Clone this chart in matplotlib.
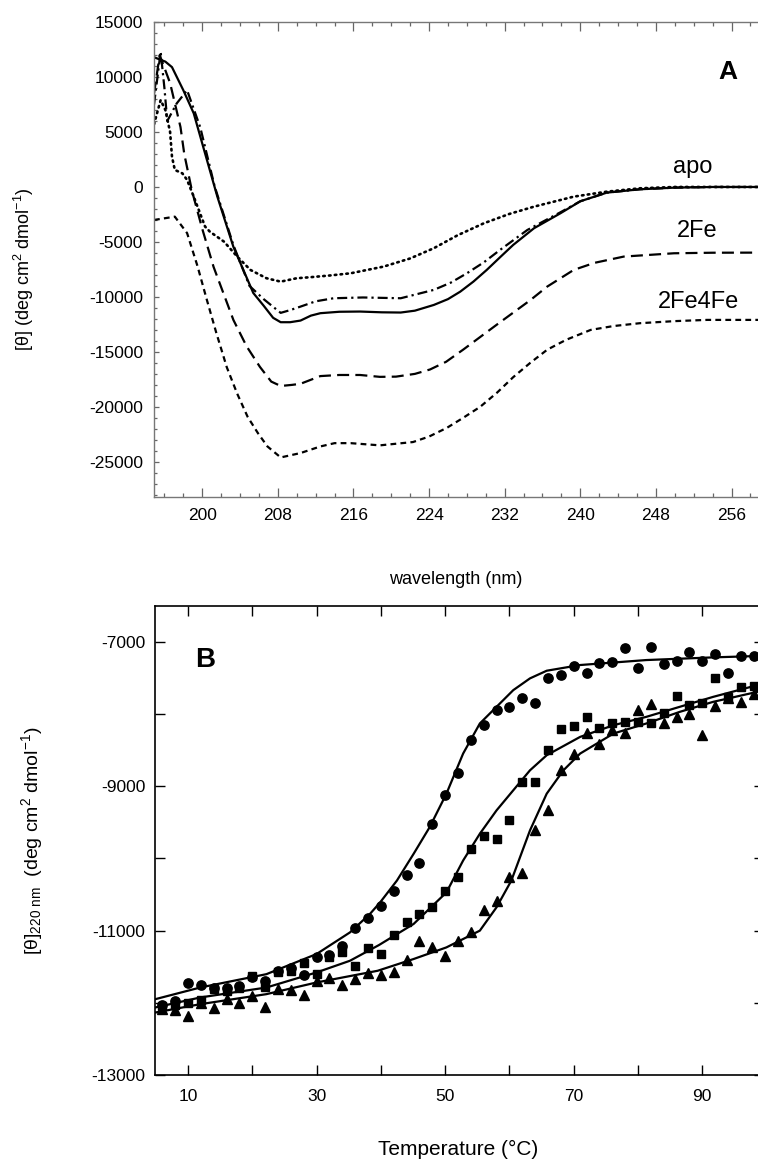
import numpy as np
import matplotlib
matplotlib.use("Agg")
import matplotlib.pyplot as plt
from matplotlib.ticker import MultipleLocator

plt.rcParams['font.family'] = ['Liberation Sans', 'DejaVu Sans']
plt.rcParams['mathtext.fontset'] = 'custom'
plt.rcParams['mathtext.rm'] = 'Liberation Sans'
plt.rcParams['mathtext.it'] = 'Liberation Sans:italic'
plt.rcParams['axes.unicode_minus'] = False

# ---- panel A: CD spectra ----
wl_solid = [194.9, 196.1, 196.8, 198.0, 199.1, 200.1, 201.6, 203.3, 205.4, 206.5, 207.5, 208.3, 209.3,
            210.4, 211.5, 212.5, 214.5, 216.7, 219.0, 221.0, 222.5, 224.5, 226.0, 227.3, 228.7, 230.1,
            231.5, 232.9, 235.1, 237.9, 240.0, 242.8, 246.3, 250.0, 254.0, 258.8]
th_solid = [11800, 11400, 10900, 8800, 6700, 3660, -880, -5450, -9640, -10800, -11900, -12300, -12300,
            -12150, -11700, -11480, -11350, -11330, -11400, -11420, -11250, -10730, -10200, -9520, -8600, -7545,
            -6400, -5270, -3755, -2390, -1300, -515, -210, -60, 0, 0]

wl_dashdot = [194.9, 195.6, 196.0, 196.3, 197.3, 198.4, 199.8, 201.3, 203.3, 205.0, 206.5, 207.5, 208.3,
              209.3, 210.4, 212.0, 213.9, 217.0, 221.0, 224.5, 226.3, 228.0, 229.8, 231.5, 234.4, 237.9,
              240.0, 242.8, 246.3, 250.0, 254.0, 258.8]
th_dashdot = [7500, 12300, 9000, 6000, 7600, 8800, 5400, 100, -5300, -9000, -10200, -10900, -11450,
              -11200, -10880, -10400, -10120, -10050, -10120, -9360, -8700, -7850, -6850, -5730, -3910, -2300,
              -1300, -515, -210, -60, 0, 0]

wl_dot = [194.9, 195.6, 196.1, 196.6, 196.8, 197.1, 197.9, 198.4, 199.1, 200.3, 200.8, 202.3, 203.7,
          205.1, 206.8, 208.3, 210.0, 211.4, 213.5, 215.7, 219.2, 222.0, 224.5, 227.0, 229.8, 232.5,
          235.1, 239.3, 242.8, 246.3, 250.0, 258.8]
th_dot = [5700, 7900, 7000, 5000, 2750, 1550, 1240, 640, -880, -3600, -4060, -4970, -6330,
          -7545, -8300, -8610, -8300, -8210, -8050, -7850, -7240, -6500, -5570, -4400, -3300, -2450,
          -1790, -880, -425, -120, 0, 0]

wl_longdash = [194.9, 195.5, 196.6, 197.7, 198.1, 198.9, 200.0, 201.2, 203.3, 204.7, 206.1, 207.3, 208.3,
               209.5, 210.4, 212.5, 214.5, 216.7, 218.8, 220.5, 222.5, 224.1, 225.8, 227.6, 229.4, 231.2,
               234.7, 236.5, 239.3, 241.5, 244.6, 249.9, 254.0, 258.8]
th_longdash = [8500, 12000, 9450, 5450, 3000, -300, -3800, -7270, -12100, -14500, -16360, -17700, -18100,
               -18000, -17900, -17200, -17100, -17100, -17270, -17250, -17000, -16600, -15900, -14800, -13650, -12500,
               -10300, -9060, -7545, -6900, -6330, -6030, -5980, -5970]

wl_shortdash = [194.9, 197.1, 198.4, 199.5, 200.5, 201.5, 202.6, 203.7, 204.8, 205.9, 206.9, 208.3, 210.4,
                212.5, 214.0, 215.7, 218.8, 222.3, 224.0, 225.9, 227.6, 229.4, 231.2, 232.9, 234.7, 236.5,
                238.5, 241.1, 243.5, 246.3, 250.0, 253.4, 258.8]
th_shortdash = [-3000, -2700, -4200, -7200, -10300, -13300, -16400, -18800, -20900, -22400, -23600, -24600, -24200,
                -23600, -23300, -23300, -23500, -23200, -22700, -21900, -21000, -20000, -18700, -17300, -16000, -14800,
                -13900, -13000, -12650, -12390, -12200, -12090, -12090]

curve_labels = ["apo", "2Fe", "2Fe4Fe"]

# ---- panel B: thermal melts at 220 nm ----
T_pts = [6, 8, 10, 12, 14, 16, 18, 20, 22, 24, 26, 28, 30, 32, 34, 36, 38, 40, 42, 44, 46, 48, 50, 52,
         54, 56, 58, 60, 62, 64, 66, 68, 70, 72, 74, 76, 78, 80, 82, 84, 86, 88, 90, 92, 94, 96, 98]
circ = [-12028, -11972, -11732, -11750, -11796, -11800, -11764, -11640, -11695, -11556, -11524, -11616,
        -11371, -11333, -11208, -10968, -10829, -10653, -10454, -10227, -10065, -9519, -9125, -8810,
        -8352, -8144, -7944, -7899, -7774, -7843, -7504, -7458, -7333, -7426, -7296, -7278, -7079, -7366,
        -7074, -7306, -7264, -7143, -7264, -7171, -7430, -7194, -7194]
squ = [-12042, -12028, -11996, -11963, -11810, -11834, -11789, -11625, -11778, -11579, -11560, -11454,
       -11602, -11361, -11292, -11486, -11246, -11324, -11060, -10884, -10769, -10667, -10454, -10250,
       -9866, -9690, -9736, -9472, -8940, -8940, -8500, -8208, -8162, -8046, -8190, -8121, -8107, -8107,
       -8129, -7990, -7746, -7875, -7852, -7496, -7760, -7629, -7611]
tri = [-12088, -12100, -12181, -12000, -12074, -11950, -11996, -11903, -12056, -11810, -11824, -11889,
       -11700, -11663, -11750, -11671, -11593, -11611, -11579, -11407, -11139, -11232, -11347, -11139,
       -11024, -10713, -10583, -10259, -10204, -9611, -9333, -8778, -8556, -8259, -8417, -8222, -8259, -7944,
       -7861, -8129, -8046, -8000, -8292, -7889, -7782, -7829, -7722]

fit_circ_T = [4.9, 11.9, 22.2, 30.0, 35.2, 38.3, 39.9, 42.5, 45.1, 47.6, 50.2, 52.8, 55.4, 58.0, 60.6,
              63.2, 65.8, 71.0, 81.3, 91.7, 98.6]
fit_circ = [-11950, -11788, -11603, -11324, -11024, -10769, -10607, -10306, -9935, -9565, -9102, -8546,
            -8129, -7898, -7667, -7504, -7398, -7319, -7250, -7213, -7194]
fit_squ_T = [4.9, 11.9, 22.2, 30.0, 35.2, 39.7, 45.1, 50.2, 52.8, 55.4, 58.0, 60.6, 63.2, 65.8, 71.0,
             76.2, 81.3, 86.5, 91.7, 98.6]
fit_squ = [-12065, -11926, -11788, -11579, -11417, -11200, -10907, -10470, -10028, -9657, -9333, -9055,
           -8778, -8569, -8315, -8153, -8037, -7898, -7760, -7597]
fit_tri_T = [4.9, 11.9, 22.2, 30.0, 39.5, 45.1, 50.2, 55.4, 58.0, 60.3, 63.2, 65.8, 68.4, 71.0, 76.2,
             81.3, 86.5, 91.7, 98.6]
fit_tri = [-12135, -12019, -11880, -11718, -11556, -11393, -11232, -11000, -10676, -10306, -9611, -9102,
           -8778, -8546, -8268, -8129, -7968, -7829, -7690]

fig = plt.figure(figsize=(7.58, 11.61), dpi=100)

# ---------------- panel A ----------------
ax1 = fig.add_axes([0.2032, 0.5719, 0.7968, 0.4091])
lw = 1.6
ax1.plot(wl_dot, th_dot, color='black', lw=1.9, dashes=(0.6, 1.6), dash_capstyle='round')
ax1.plot(wl_dashdot, th_dashdot, color='black', lw=lw, dashes=(4.5, 1.8, 1.0, 1.8))
ax1.plot(wl_solid, th_solid, color='black', lw=lw)
ax1.plot(wl_longdash, th_longdash, color='black', lw=lw, dashes=(5.4, 2.8))
ax1.plot(wl_shortdash, th_shortdash, color='black', lw=lw, dashes=(2.6, 1.9))

ax1.set_xlim(194.9, 258.8)
ax1.set_ylim(-28200, 15000)
ax1.xaxis.set_major_locator(MultipleLocator(8))
ax1.xaxis.set_minor_locator(MultipleLocator(2))
ax1.yaxis.set_major_locator(MultipleLocator(5000))
ax1.yaxis.set_minor_locator(MultipleLocator(1000))
for s in ['left', 'top', 'bottom']:
    ax1.spines[s].set_color('#777777')
    ax1.spines[s].set_linewidth(1.0)
ax1.spines['right'].set_visible(False)
ax1.tick_params(which='both', direction='in', top=True, right=False, color='#666666',
                labelsize=12.5, width=0.9)
ax1.tick_params(axis='x', which='major', length=6.5, pad=8)
ax1.tick_params(axis='x', which='minor', length=3)
ax1.tick_params(axis='y', which='major', length=3.5, pad=8)
ax1.tick_params(axis='y', which='minor', length=2)

ax1.set_xlabel('wavelength (nm)', fontsize=13)
ax1.xaxis.set_label_coords(0.5, -0.156)
ax1.set_ylabel(r'[θ] (deg cm$^{2}$ dmol$^{-1}$)', fontsize=13)
ax1.yaxis.set_label_coords(-0.195, 0.48)

ax1.text(251.9, 1800, curve_labels[0], fontsize=17, ha='center', va='center')
ax1.text(252.4, -4000, curve_labels[1], fontsize=17, ha='center', va='center')
ax1.text(252.5, -10450, curve_labels[2], fontsize=17, ha='center', va='center')
ax1.text(255.6, 10450, 'A', fontsize=19, fontweight='bold', ha='center', va='center')

# ---------------- panel B ----------------
ax2 = fig.add_axes([0.2045, 0.0741, 0.8034, 0.4040])
ax2.plot(fit_circ_T, fit_circ, color='black', lw=1.6)
ax2.plot(fit_squ_T, fit_squ, color='black', lw=1.6)
ax2.plot(fit_tri_T, fit_tri, color='black', lw=1.6)
ax2.plot(T_pts, circ, 'o', color='black', ms=6.7, ls='none')
ax2.plot(T_pts, squ, 's', color='black', ms=6.3, ls='none')
ax2.plot(T_pts, tri, '^', color='black', ms=7.2, ls='none')

ax2.set_xlim(4.87, 99.6)
ax2.set_ylim(-13000, -6500)
ax2.set_xticks([10, 30, 50, 70, 90])
ax2.xaxis.set_minor_locator(MultipleLocator(10))
ax2.set_yticks([-13000, -11000, -9000, -7000])
ax2.yaxis.set_minor_locator(MultipleLocator(1000))
for s in ax2.spines.values():
    s.set_linewidth(1.2)
ax2.tick_params(which='both', direction='in', top=True, right=True, length=7.2, width=1.0,
                labelsize=12.5)
ax2.tick_params(axis='x', pad=10)
ax2.tick_params(axis='y', pad=7)

ax2.set_xlabel('Temperature (°C)', fontsize=15)
ax2.xaxis.set_label_coords(0.497, -0.139)
ax2.set_ylabel(r'[θ]$_{220\ \mathrm{nm}}$  (deg cm$^{2}$ dmol$^{-1}$)', fontsize=14)
ax2.yaxis.set_label_coords(-0.18, 0.5)
ax2.text(12.6, -7250, 'B', fontsize=20, fontweight='bold', ha='center', va='center')

fig.savefig('out.png', dpi=100)
